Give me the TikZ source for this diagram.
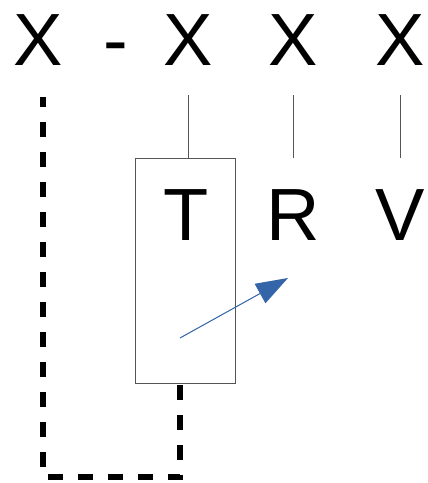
\documentclass[tikz,border=0pt]{standalone}
\usepackage{fontspec}
\setmainfont{Liberation Sans}
\usetikzlibrary{arrows.meta}
\definecolor{arrowblue}{RGB}{52,101,168}
\definecolor{framegray}{RGB}{85,85,85}
\begin{document}
\begin{tikzpicture}[x=1pt,y=-1pt,
  big/.style={font=\fontsize{74}{74}\selectfont, inner sep=0pt, anchor=base},
  thin/.style={draw=framegray, line width=1pt},
  loop/.style={line width=6pt, dash pattern=on 15pt off 15pt, line cap=butt},
  pointer/.style={draw=arrowblue, line width=1pt, -{Triangle[length=32pt,width=22pt]}, fill=arrowblue}]
  \useasboundingbox (0,0) rectangle (428,483);
  % top row of letters
  \node[big] (x1) at (38,65) {X};
  \node[big] (dash) at (116,65) {-};
  \node[big] (x2) at (188,65) {X};
  \node[big] (x3) at (293,65) {X};
  \node[big] (x4) at (400,65) {X};
  % box holding T
  \node[thin, minimum width=100pt, minimum height=225pt, inner sep=0pt] (box) at (185,270.5) {};
  \node[big] (t) at (186,240) {T};
  \node[big] (r) at (293,240) {R};
  \node[big] (v) at (400,240) {V};
  % leads
  \coordinate (l2) at (188,95);
  \coordinate (l3) at (293,95);
  \coordinate (l4) at (400,95);
  \coordinate (e3) at (293,158);
  \coordinate (e4) at (400,158);
  \draw[thin] (l2) -- (l2 |- box.north);
  \draw[thin] (l3) -- (e3);
  \draw[thin] (l4) -- (e4);
  % wiper arrow
  \coordinate (ws) at (180,338);
  \coordinate (we) at (288,278);
  \draw[pointer] (ws) -- (we);
  % dashed loop back to the first X
  \coordinate (b0) at (180,384.5);
  \coordinate (b1) at (180,477);
  \coordinate (b2) at (43,477);
  \coordinate (b3) at (43,97);
  \draw[loop] (b0) -- (b1) -- (b2) -- (b3);
\end{tikzpicture}
\end{document}
